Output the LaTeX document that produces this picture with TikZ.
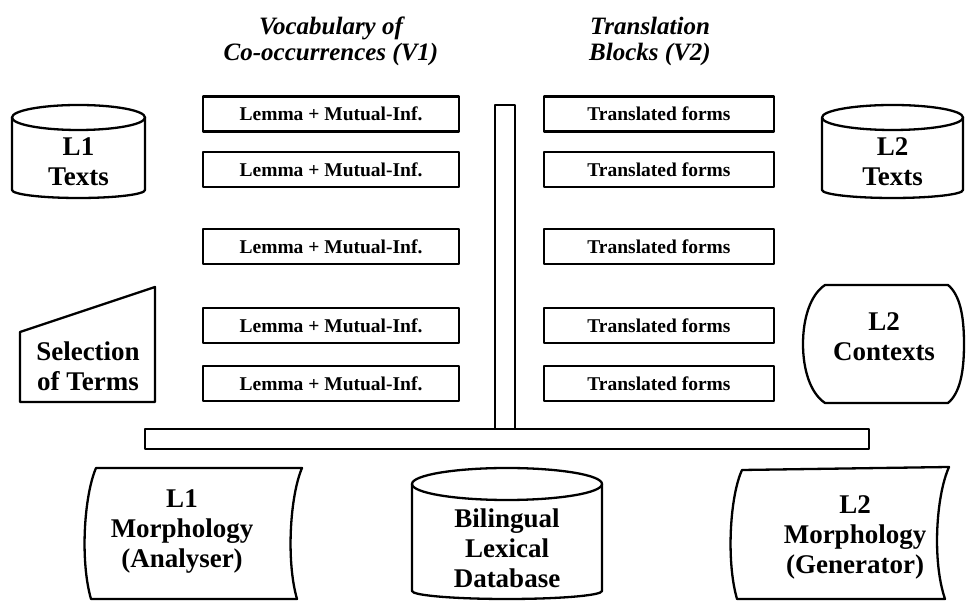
\documentclass[tikz,border=0pt]{standalone}
\usepackage{fontspec}
\setmainfont{Liberation Serif}
\usetikzlibrary{positioning}
\tikzset{
  outline/.style={
    draw=black,
    line width=2.3pt,
    line join=round
  },
  blockbox/.style={
    outline,
    minimum height=35pt,
    inner sep=0pt,
    font=\fontsize{19.5}{21}\selectfont\bfseries
  },
  lemmabox/.style={blockbox, minimum width=256pt},
  formbox/.style={blockbox, minimum width=230pt},
  bigtext/.style={
    align=center,
    font=\fontsize{27}{30}\selectfont\bfseries
  },
  headtext/.style={
    align=center,
    font=\fontsize{25}{26}\selectfont\bfseries\itshape
  }
}

\begin{document}
\begin{tikzpicture}[x=1pt, y=1pt]
\useasboundingbox (0,0) rectangle (968,601);

% column headings
\node[headtext] (vocab) at (331,560) {Vocabulary of\\Co-occurrences (V1)};
\node[headtext] (blocks) at (650,560) {Translation\\Blocks (V2)};

% the two columns of blocks
\foreach \y [count=\i] in {487,431.5,354.5,275.5,217.5} {
  \node[lemmabox] (lemma\i) at (331,\y) {Lemma + Mutual-Inf.};
  \node[formbox] (form\i) at (659,\y) {Translated forms};
}

% spine and base bar
\draw[outline] (495,172) rectangle (515,496);
\draw[outline] (145,152) rectangle (869,172);

% text stores
\draw[outline] (12,483.5) -- (12,411) arc[start angle=180, end angle=360, x radius=66.5, y radius=8] -- (145,483.5);
\draw[outline] (78.5,483.5) ellipse[x radius=66.5, y radius=12.5];
\node[bigtext] (l1texts) at (78.5,439) {L1\\Texts};

\draw[outline] (822,483.5) -- (822,411) arc[start angle=180, end angle=360, x radius=70.5, y radius=8] -- (963,483.5);
\draw[outline] (892.5,483.5) ellipse[x radius=70.5, y radius=12.5];
\node[bigtext] (l2texts) at (892.5,439) {L2\\Texts};

% manual input
\draw[outline] (20,199) -- (20,269) -- (155,314) -- (155,199) -- cycle;
\node[bigtext] (selection) at (88,235) {Selection\\of Terms};

% contexts
\draw[outline] (825,316) -- (948,316) .. controls (960,306) and (964,285) .. (964,257)
  .. controls (964,229) and (960,208) .. (948,198) -- (825,198)
  .. controls (810,208) and (803,232) .. (803,257)
  .. controls (803,282) and (810,306) .. (825,316) -- cycle;
\node[bigtext] (l2contexts) at (884,264) {L2\\Contexts};

% morphology modules
\draw[outline] (96,133) -- (302,133) .. controls (290,105) and (286,40) .. (297,2)
  -- (91,2) .. controls (80,40) and (84,105) .. (96,133) -- cycle;
\node[bigtext] (l1morph) at (182,69) {L1\\Morphology\\(Analyser)};

\draw[outline] (742,131) -- (949,134) .. controls (936,105) and (932,40) .. (945,2)
  -- (737,2) .. controls (726,40) and (730,105) .. (742,131) -- cycle;
\node[bigtext] (l2morph) at (855,64) {L2\\Morphology\\(Generator)};

% lexical database
\draw[outline] (412,117) -- (412,10) arc[start angle=180, end angle=360, x radius=95, y radius=8] -- (602,117);
\draw[outline] (507,117) ellipse[x radius=95, y radius=16];
\node[bigtext] (lexdb) at (507,53) {Bilingual\\Lexical\\Database};
\end{tikzpicture}
\end{document}
